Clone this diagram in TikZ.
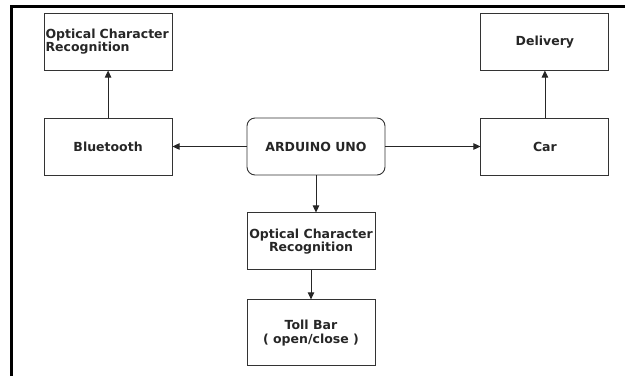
\documentclass[tikz,border=0pt]{standalone}
\usepackage{fontspec}
\setmainfont{DejaVu Sans}
\usepackage{tikz}
\usetikzlibrary{positioning}
\usetikzlibrary{arrows.meta}

\begin{document}
\begin{tikzpicture}[
		x=1pt, y=1pt,
		font=\fontsize{12.5}{13.5}\selectfont\bfseries,
		box/.style={rectangle, draw=black!80, line width=0.9pt, text=black!85, minimum width=128pt, minimum height=57pt, align=center, inner sep=1.5pt},
		roundbox/.style={box, minimum width=138pt, rounded corners=8pt},
		arrow/.style={-{Triangle[length=7pt, width=6.5pt]}, line width=0.8pt, draw=black!85}
		]
		
		% Frame
		\useasboundingbox (0,0) rectangle (625,-376);
		\draw[line width=3pt] (11,-376) -- (11,-6.5) -- (625,-6.5);
		
		% Controller
		\node[roundbox] (arduino) at (316,-146.5) {ARDUINO UNO};
		
		% Side blocks
		\node[box, left=74pt of arduino] (bluetooth) {Bluetooth};
		\node[box, right=95pt of arduino] (car) {Car};
		\node[box, above=47pt of bluetooth, text width=125pt, align=left] (ocrtop) {Optical Character\\Recognition};
		\node[box, above=47pt of car] (delivery) {Delivery};
		
		% Lower branch
		\node[box, below=37pt of arduino.south west, anchor=north west] (ocr) {Optical Character\\Recognition};
		\node[box, below=29pt of ocr, minimum height=66pt] (toll) {Toll Bar\\( open/close )};
		
		% Arrows
		\draw[arrow] (arduino) -- (bluetooth);
		\draw[arrow] (arduino) -- (car);
		\draw[arrow] (bluetooth) -- (ocrtop);
		\draw[arrow] (car) -- (delivery);
		\draw[arrow] (arduino.south) -- (arduino.south |- ocr.north);
		\draw[arrow] (ocr) -- (toll);
		
	\end{tikzpicture}
\end{document}
